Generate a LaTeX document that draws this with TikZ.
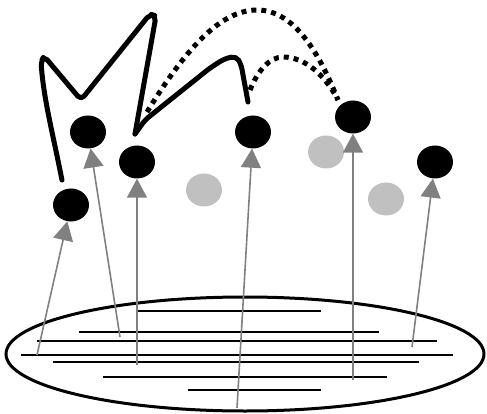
\documentclass[tikz,border=0pt]{standalone}
\usepackage{tikz}
\usetikzlibrary{shapes.geometric, arrows.meta, positioning, calc}
\definecolor{dotgray}{HTML}{C0C0C0}
\definecolor{arrowgray}{HTML}{808080}

\begin{document}
\begin{tikzpicture}[
    x=1pt, y=-1pt,
    token/.style={ellipse, fill=#1, inner sep=0pt, minimum width=36pt, minimum height=33pt},
    token/.default=black,
    pool/.style={ellipse, draw=black, line width=3pt, minimum width=478pt, minimum height=114pt},
    layer/.style={line width=1.4pt, black},
    lift/.style={-{Triangle[length=19pt, width=20pt]}, line width=1.6pt, arrowgray},
    link/.style={line width=5pt, black, line cap=round, line join=round},
    hop/.style={line width=5pt, black, dash pattern=on 5pt off 5pt}
]
\useasboundingbox (0,0) rectangle (487,414);
\node[pool] (base) at (245,354) {};
\draw[layer] (138,311) -- (321,311);
\draw[layer] (79,332) -- (379,332);
\draw[layer] (37,341) -- (437,341);
\draw[layer] (21,355) -- (453,355);
\draw[layer] (53,362) -- (419,362);
\draw[layer] (103,377) -- (387,377);
\draw[layer] (188,390) -- (321,390);
\node[token=dotgray] (g1) at (204,190) {};
\node[token=dotgray] (g2) at (326,152) {};
\node[token=dotgray] (g3) at (386,199) {};
\node[token] (d1) at (71,205) {};
\node[token] (d2) at (88,132) {};
\node[token] (d3) at (137,162) {};
\node[token] (d4) at (253,132) {};
\node[token] (d5) at (353,117) {};
\node[token] (d6) at (435,162) {};
\coordinate (b1) at (37,355);
\coordinate (b2) at (120,337);
\coordinate (b3) at (137,365);
\coordinate (b4) at (237,408);
\coordinate (b5) at (353,380);
\coordinate (b6) at (412,347);
\draw[lift] (b1) -- (d1);
\draw[lift] (b2) -- (d2);
\draw[lift] (b3) -- (d3);
\draw[lift] (b4) -- (d4);
\draw[lift] (b5) -- (d5);
\draw[lift] (b6) -- (d6);
\coordinate (s1) at (62,180);
\coordinate (s3) at (135,134);
\coordinate (s4) at (248,102);
\coordinate (t1) at (147,112);
\coordinate (t2) at (250,90);
\coordinate (t5) at (338,100);
\draw[link, rounded corners=5pt] (s1) .. controls (52,130) and (44,100) .. (41,62)
    -- (44,56) -- (81,100) -- (150,14) -- (156,16) -- (s3);
\draw[link, rounded corners=5pt] (s3) -- (145,120) -- (210,68) -- (224,59) -- (236,56)
    -- (241,64) -- (s4);
\draw[hop] (t1) .. controls (185,50) and (220,10) .. (257,10)
    .. controls (295,10) and (320,55) .. (t5);
\draw[hop] (t2) .. controls (258,70) and (270,57) .. (283,57)
    .. controls (305,57) and (325,75) .. (t5);
\end{tikzpicture}
\end{document}
